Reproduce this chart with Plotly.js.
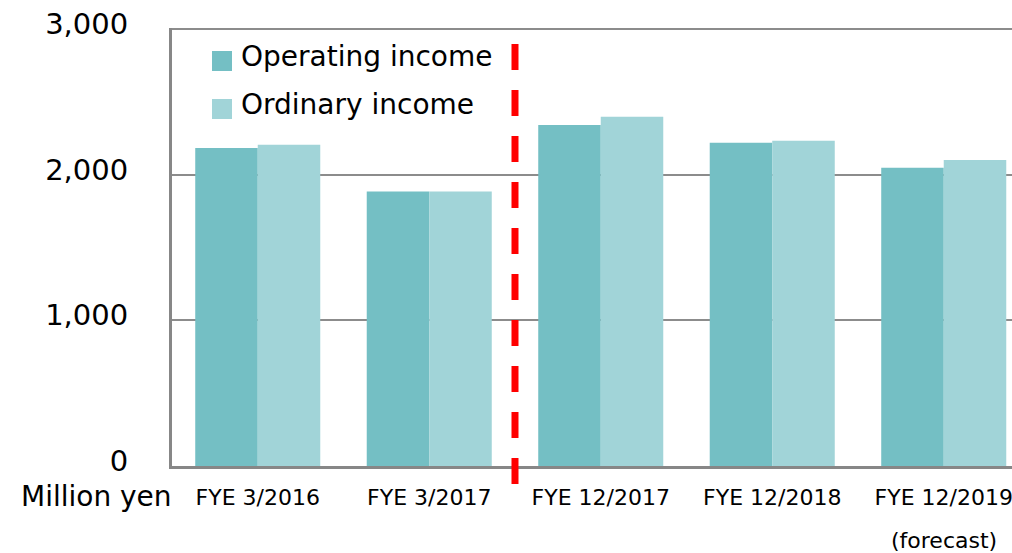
<!DOCTYPE html>
<html>
<head>
<meta charset="utf-8">
<script src="https://cdn.plot.ly/plotly-3.0.1.min.js"></script>
<style>
  html, body { margin: 0; padding: 0; background: #fff; }
  #chart { width: 1012px; height: 553px; }
</style>
</head>
<body>
<div id="chart"></div>
<script>
// ---- data ----
const categories = ["FYE 3/2016", "FYE 3/2017", "FYE 12/2017", "FYE 12/2018", "FYE 12/2019"];
const operatingIncome = [2183, 1885, 2341, 2220, 2048];
const ordinaryIncome  = [2206, 1885, 2398, 2233, 2101];
const seriesNames = ["Operating income", "Ordinary income"];
const yTickValues = [0, 1000, 2000, 3000];
const yTickLabels = ["0", "1,000", "2,000", "3,000"];
const unitLabel = "Million yen";
const forecastNote = "(forecast)";
const dividerAfterIndex = 1; // dashed line between FYE 3/2017 and FYE 12/2017

// ---- styling ----
const colOp = "#74bfc4";
const colOrd = "#a1d4d8";
const font = "DejaVu Sans, Verdana, sans-serif";
const xRange = [-0.5, 4.398];

const W = 1012, H = 553;
const mL = 172, mR = 0, mT = 28, mB = 87;
const pw = W - mL - mR, ph = H - mT - mB;
const px = x => (x - mL) / pw;           // pixel x -> paper
const py = y => (H - mB - y) / ph;        // pixel y -> paper

const traces = [
  { type: "bar", x: categories, y: operatingIncome, name: seriesNames[0],
    marker: { color: colOp, line: { width: 0 } }, hoverinfo: "skip" },
  { type: "bar", x: categories, y: ordinaryIncome, name: seriesNames[1],
    marker: { color: colOrd, line: { width: 0 } }, hoverinfo: "skip" }
];

const dividerX = (dividerAfterIndex + 0.5 - xRange[0]) / (xRange[1] - xRange[0]);

const layout = {
  width: W, height: H,
  margin: { l: mL, r: mR, t: mT, b: mB, pad: 0 },
  paper_bgcolor: "#fff", plot_bgcolor: "#fff",
  showlegend: false,
  barmode: "group", bargap: 0.271, bargroupgap: 0,
  font: { family: font, color: "#000" },
  xaxis: {
    type: "category", range: xRange, fixedrange: true,
    showline: true, linecolor: "#878787", linewidth: 3,
    showgrid: false, zeroline: false, ticks: "",
    tickfont: { size: 22, family: font, color: "#000" },
    ticklabelstandoff: 10
  },
  yaxis: {
    range: [0, 3007], fixedrange: true,
    tickmode: "array", tickvals: yTickValues, ticktext: yTickLabels,
    showline: true, linecolor: "#878787", linewidth: 3,
    showgrid: true, gridcolor: "#8c8c8c", gridwidth: 2,
    zeroline: false, ticks: "",
    tickfont: { size: 29, family: font, color: "#000" },
    ticklabelstandoff: 35, ticklabelshift: -5
  },
  shapes: [
    { type: "line", xref: "paper", yref: "paper",
      x0: dividerX, x1: dividerX, y0: py(44), y1: py(484),
      line: { color: "#ff0000", width: 7, dash: "26px,20px" }, layer: "above" },
    { type: "rect", xref: "paper", yref: "paper",
      x0: px(212), x1: px(232), y0: py(71), y1: py(51),
      fillcolor: colOp, line: { width: 0 } },
    { type: "rect", xref: "paper", yref: "paper",
      x0: px(212), x1: px(232), y0: py(119), y1: py(99),
      fillcolor: colOrd, line: { width: 0 } }
  ],
  annotations: [
    { xref: "paper", yref: "paper", x: px(239), y: py(57), xanchor: "left", yanchor: "middle",
      text: seriesNames[0], showarrow: false, font: { size: 28, family: font, color: "#000" } },
    { xref: "paper", yref: "paper", x: px(239), y: py(105), xanchor: "left", yanchor: "middle",
      text: seriesNames[1], showarrow: false, font: { size: 28, family: font, color: "#000" } },
    { xref: "paper", yref: "paper", x: px(174), y: py(497), xanchor: "right", yanchor: "middle",
      text: unitLabel, showarrow: false, font: { size: 28, family: font, color: "#000" } },
    { xref: "x", yref: "paper", x: categories.length - 1, y: py(540), xanchor: "center", yanchor: "middle",
      text: forecastNote, showarrow: false, font: { size: 22, family: font, color: "#000" } }
  ]
};

Plotly.newPlot("chart", traces, layout, { displayModeBar: false, staticPlot: true });
</script>
</body>
</html>
